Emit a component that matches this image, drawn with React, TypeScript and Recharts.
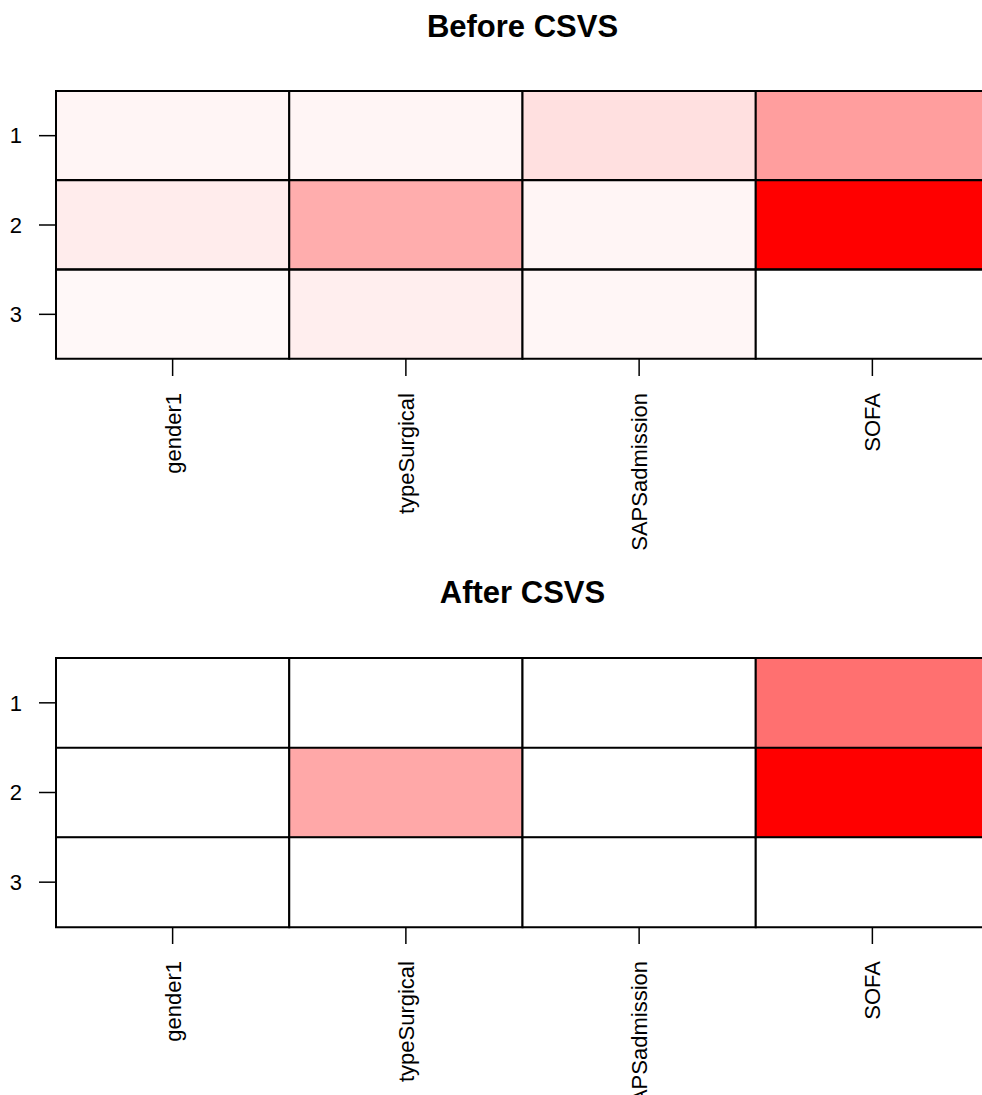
import { BarChart, Bar, Cell, XAxis, YAxis } from "recharts";

// heatmap intensity, 0 = white, 1 = pure red
const variables = ["gender1", "typeSurgical", "SAPSadmission", "SOFA"];
const rowLabels = ["1", "2", "3"];

const beforeRow1 = [0.04, 0.04, 0.12, 0.38];
const beforeRow2 = [0.075, 0.32, 0.04, 1.0];
const beforeRow3 = [0.027, 0.067, 0.035, 0.0];

const afterRow1 = [0, 0, 0, 0.56];
const afterRow2 = [0, 0.34, 0, 1.0];
const afterRow3 = [0, 0, 0, 0];

const xTicks = [0.5, 1.5, 2.5, 3.5];

const FONT = '"Liberation Sans", Arial, Helvetica, sans-serif';

const heat = (v: number) => {
  const g = Math.round(255 * (1 - v));
  return `rgb(255,${g},${g})`;
};

// each row is split into one unit-wide segment per variable
const buildRows = (rows: number[][]) =>
  rows.map((vals, i) => {
    const r: any = { row: rowLabels[i] };
    variables.forEach((_, j) => {
      r["c" + j] = 1;
      r["v" + j] = vals[j];
    });
    return r;
  });

const VarTick = (props: any) => {
  const { x, y, payload } = props;
  const label = variables[Math.floor(payload.value)];
  return (
    <g transform={`translate(${x},${y})`}>
      <text
        transform="rotate(-90)"
        x={0}
        y={8}
        textAnchor="end"
        fontSize={22}
        fill="#000"
        fontFamily={FONT}
      >
        {label}
      </text>
    </g>
  );
};

function Heat({ rows, height }: { rows: number[][]; height: number }) {
  const data = buildRows(rows);
  return (
    <BarChart
      width={1000}
      height={height}
      data={data}
      layout="vertical"
      margin={{ top: 91, right: 11, left: 0, bottom: 0 }}
      barCategoryGap={0}
      barGap={0}
    >
      <XAxis
        type="number"
        domain={[0, 4]}
        ticks={xTicks}
        interval={0}
        height={201}
        axisLine={false}
        tickLine={{ stroke: "#000", strokeWidth: 1.5 }}
        tickSize={17}
        tickMargin={17}
        tick={<VarTick />}
      />
      <YAxis
        type="category"
        dataKey="row"
        width={56}
        axisLine={false}
        tickLine={{ stroke: "#000", strokeWidth: 1.5 }}
        tickSize={17}
        tickMargin={17}
        tick={{ fontSize: 22, fill: "#000", fontFamily: FONT }}
      />
      {variables.map((_, j) => (
        <Bar
          key={j}
          dataKey={"c" + j}
          stackId="a"
          isAnimationActive={false}
          stroke="#000"
          strokeWidth={2}
        >
          {data.map((d, i) => (
            <Cell key={i} fill={heat(d["v" + j])} />
          ))}
        </Bar>
      ))}
    </BarChart>
  );
}

export default function App() {
  return (
    <div
      style={{
        position: "absolute",
        top: 0,
        left: 0,
        width: 982,
        height: 1095,
        overflow: "hidden",
        background: "#fff",
        fontFamily: FONT,
      }}
    >
      <div style={{ position: "absolute", top: 0, left: 0 }}>
        <Heat rows={[beforeRow1, beforeRow2, beforeRow3]} height={560} />
      </div>
      <div style={{ position: "absolute", top: 567, left: 0 }}>
        <Heat rows={[afterRow1, afterRow2, afterRow3]} height={561} />
      </div>
      <svg
        width={982}
        height={1095}
        style={{ position: "absolute", top: 0, left: 0, pointerEvents: "none" }}
      >
        <text x={522.5} y={37} textAnchor="middle" fontSize={31} fontWeight="bold" fontFamily={FONT} fill="#000">
          Before CSVS
        </text>
        <text x={522.5} y={603} textAnchor="middle" fontSize={31} fontWeight="bold" fontFamily={FONT} fill="#000">
          After CSVS
        </text>
      </svg>
    </div>
  );
}
